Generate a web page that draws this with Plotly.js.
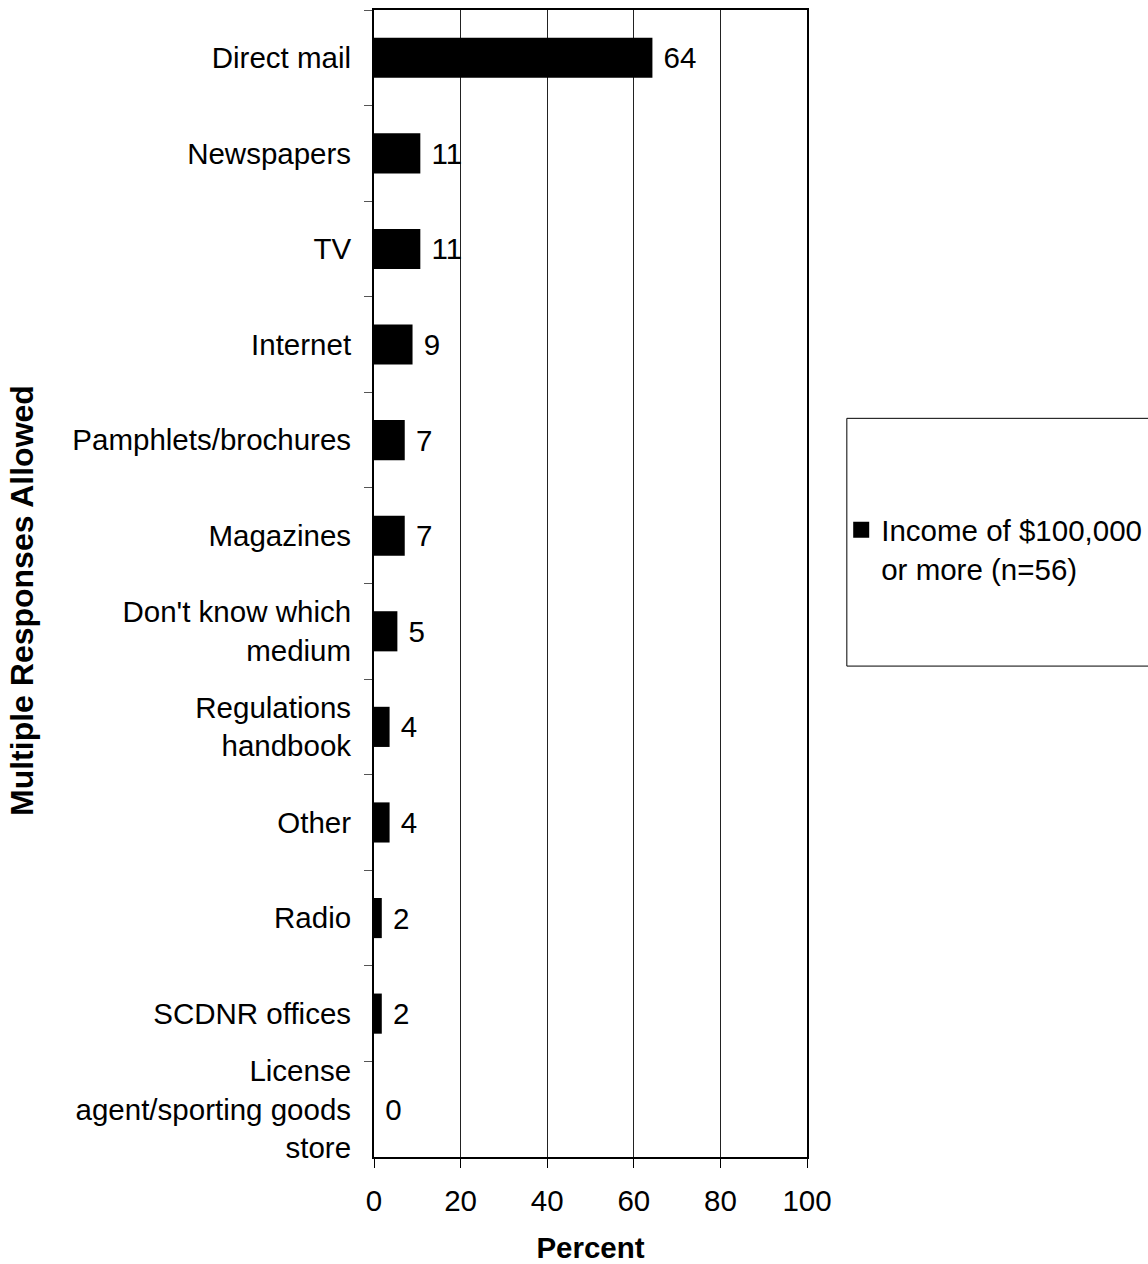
<!DOCTYPE html>
<html>
<head>
<meta charset="utf-8">
<script src="https://cdn.plot.ly/plotly-3.0.1.min.js"></script>
<style>html,body{margin:0;padding:0;background:#fff;}#chart{width:1148px;height:1264px;}</style>
</head>
<body>
<div id="chart"></div>
<script>
const categories = [
  "Direct mail",
  "Newspapers",
  "TV",
  "Internet",
  "Pamphlets/brochures",
  "Magazines",
  "Don't know which<br>medium",
  "Regulations<br>handbook",
  "Other",
  "Radio",
  "SCDNR offices",
  "License<br>agent/sporting goods<br>store"
];
const values = [64.3, 10.7, 10.7, 8.9, 7.1, 7.1, 5.4, 3.6, 3.6, 1.8, 1.8, 0];
const valueLabels = ["64", "11", "11", "9", "7", "7", "5", "4", "4", "2", "2", "0"];
const seriesName = "Income of $100,000<br>or more (n=56)";
const xTicks = [0, 20, 40, 60, 80, 100];
const xTitle = "Percent";
const yTitle = "Multiple Responses Allowed";

const FONT = "Liberation Sans, Arial, sans-serif";
const FS = 29.5;

const barTrace = {
  type: "bar",
  orientation: "h",
  x: values,
  y: categories,
  name: seriesName,
  legendgroup: "s",
  showlegend: false,
  marker: {color: "#000000", line: {width: 0}},
  width: 0.42,
  text: valueLabels,
  texttemplate: "\u00a0%{text}",
  textposition: "outside",
  cliponaxis: false,
  textfont: {family: FONT, size: FS, color: "#000"},
  hoverinfo: "x+y"
};

// legend-only entry (square key like the original)
const legendTrace = {
  type: "scatter",
  mode: "markers",
  x: [null],
  y: [null],
  name: seriesName,
  legendgroup: "s",
  showlegend: true,
  marker: {symbol: "square", size: 16, color: "#000"}
};

const layout = {
  width: 1148,
  height: 1264,
  paper_bgcolor: "#fff",
  plot_bgcolor: "#fff",
  margin: {l: 374, r: 341, t: 10, b: 107, autoexpand: false},
  font: {family: FONT, size: FS, color: "#000"},
  showlegend: true,
  legend: {
    x: 1.079, xanchor: "left",
    y: 0.53, yanchor: "middle",
    bgcolor: "rgba(0,0,0,0)",
    borderwidth: 0,
    valign: "top",
    font: {family: FONT, size: FS, color: "#000"},
    itemwidth: 30
  },
  xaxis: {
    range: [0, 100],
    tickvals: xTicks,
    ticktext: xTicks.map(String),
    showgrid: true,
    gridcolor: "#222",
    gridwidth: 1,
    zeroline: false,
    showline: true,
    linecolor: "#000",
    linewidth: 2,
    mirror: true,
    ticks: "outside",
    ticklen: 9,
    tickcolor: "#000",
    ticklabelstandoff: 8,
    tickfont: {family: FONT, size: FS, color: "#000"},
    title: {text: "<b>" + xTitle + "</b>", font: {family: FONT, size: FS, color: "#000"}, standoff: 22}
  },
  yaxis: {
    type: "category",
    autorange: "reversed",
    showgrid: false,
    zeroline: false,
    showline: true,
    linecolor: "#000",
    linewidth: 2,
    mirror: true,
    ticks: "outside",
    tickson: "boundaries",
    ticklen: 8,
    tickcolor: "#555",
    ticklabelstandoff: 15,
    tickfont: {family: FONT, size: FS, color: "#000"}
  },
  annotations: [{
    text: "<b>" + yTitle + "</b>",
    xref: "paper", yref: "paper",
    x: -0.813, y: 0.4856,
    xanchor: "center", yanchor: "middle",
    textangle: -90,
    showarrow: false,
    font: {family: FONT, size: 32, color: "#000"}
  }],
  shapes: [{
    type: "rect", xref: "paper", yref: "paper",
    x0: 1.092, x1: 1.85, y0: 0.428, y1: 0.644,
    line: {color: "#000", width: 1}, fillcolor: "rgba(0,0,0,0)"
  }]
};

Plotly.newPlot("chart", [barTrace, legendTrace], layout, {staticPlot: true, displayModeBar: false});
</script>
</body>
</html>
